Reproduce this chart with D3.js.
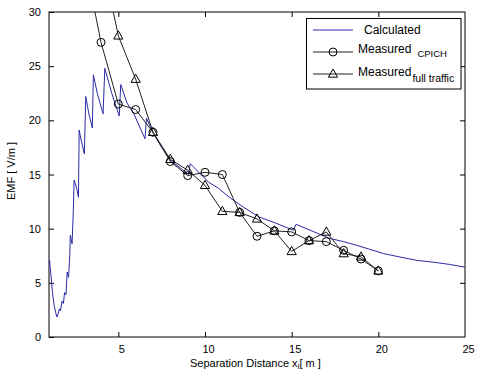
<!DOCTYPE html>
<html>
<head>
<meta charset="utf-8">
<script src="https://cdn.jsdelivr.net/npm/d3@7/dist/d3.min.js"></script>
<style>
  html, body { margin: 0; padding: 0; background: #fff; }
  svg { display: block; font-family: "Liberation Sans", Arial, sans-serif; }
</style>
</head>
<body>
<svg id="chart" width="482" height="371"></svg>
<script>
// ---- data ----
const calcX = [1.0, 1.03, 1.07, 1.12, 1.2, 1.3, 1.38, 1.45, 1.52, 1.6, 1.66, 1.75, 1.83, 1.9, 1.98, 2.05, 2.13, 2.2, 2.23, 2.33, 2.4, 2.45, 2.6, 2.7, 2.74, 2.85, 3.04, 3.12, 3.3, 3.5, 3.56, 3.8, 4.12, 4.22, 4.6, 5.05, 5.14, 5.5, 5.9, 6.2, 6.54, 6.62, 7.02, 7.5, 8.0, 8.5, 9.05, 9.15, 9.7, 10.2, 10.8, 11.4, 12.2, 13.1, 14.1, 15.1, 15.25, 16.0, 17.2, 18.0, 18.75, 19.5, 20.3, 21.2, 22.2, 23.2, 24.1, 25.0];
const calcY = [6.6, 7.1, 6.4, 5.6, 4.1, 2.9, 2.3, 1.85, 2.1, 2.6, 2.4, 3.3, 3.1, 4.1, 3.9, 6.0, 5.5, 7.6, 9.4, 8.6, 11.5, 14.5, 13.7, 12.9, 19.1, 18.2, 16.9, 22.2, 20.6, 19.3, 24.2, 22.4, 20.6, 24.8, 22.6, 20.4, 23.3, 21.6, 20.6, 19.5, 18.3, 20.2, 18.8, 17.5, 16.3, 15.7, 15.0, 16.0, 15.1, 14.3, 13.7, 12.9, 12.0, 11.1, 10.5, 9.85, 10.4, 9.9, 9.1, 8.8, 8.46, 8.1, 7.7, 7.4, 7.08, 6.9, 6.7, 6.45];

const measX = [3, 4, 5, 6, 7, 8, 9, 10, 11, 12, 13, 14, 15, 16, 17, 18, 19, 20];
const cpichY = [35.2, 27.2, 21.5, 21.0, 18.9, 16.2, 14.9, 15.2, 15.0, 11.5, 9.3, 9.8, 9.7, 8.9, 8.8, 8.0, 7.2, 6.1];
const fullX = [4, 5, 6, 7, 8, 9, 10, 11, 12, 13, 14, 15, 16, 17, 18, 19, 20];
const fullY = [35.4, 27.8, 23.8, 18.9, 16.4, 15.4, 14.0, 11.6, 11.5, 10.9, 9.8, 7.9, 8.9, 9.7, 7.7, 7.4, 6.1];

const xTicks = [5, 10, 15, 20, 25];
const yTicks = [0, 5, 10, 15, 20, 25, 30];
const legendLabels = ["Calculated", "Measured", "Measured"];
const legendSubs = ["", "CPICH", "full traffic"];

// ---- layout ----
const L = 49, T = 12, R = 465, B = 337;
const svg = d3.select("#chart");
const x = d3.scaleLinear().domain([1, 25]).range([L, R]);
const y = d3.scaleLinear().domain([0, 30]).range([B, T]);

svg.append("defs").append("clipPath").attr("id", "clip")
  .append("rect").attr("x", L).attr("y", T).attr("width", R - L).attr("height", B - T);

// frame
svg.append("rect").attr("x", L).attr("y", T).attr("width", R - L).attr("height", B - T)
  .attr("fill", "none").attr("stroke", "#000").attr("stroke-width", 1);

// axes (ticks inside)
const tickLen = 5;
const gx = svg.append("g").attr("transform", `translate(0,${B})`)
  .call(d3.axisBottom(x).tickValues(xTicks).tickSizeInner(-tickLen).tickSizeOuter(0).tickPadding(8));
const gxTop = svg.append("g").attr("transform", `translate(0,${T})`)
  .call(d3.axisTop(x).tickValues(xTicks.filter(v => v < 25)).tickSizeInner(-tickLen).tickSizeOuter(0).tickFormat(""));
const gy = svg.append("g").attr("transform", `translate(${L},0)`)
  .call(d3.axisLeft(y).tickValues(yTicks).tickSizeInner(-tickLen).tickSizeOuter(0).tickPadding(8));
const gyR = svg.append("g").attr("transform", `translate(${R},0)`)
  .call(d3.axisRight(y).tickValues(yTicks.filter(v => v > 0 && v < 30)).tickSizeInner(-tickLen).tickSizeOuter(0).tickFormat(""));
[gx, gxTop, gy, gyR].forEach(g => {
  g.select(".domain").remove();
  g.selectAll("line").attr("stroke", "#000");
  g.selectAll("text").attr("font-size", 11).attr("fill", "#000")
    .attr("font-family", "Liberation Sans, Arial, sans-serif");
});
gx.selectAll("text").attr("dx", 3);
gx.selectAll(".tick").filter(d => d === 25).select("line").remove();

// axis titles
const xt = svg.append("text").attr("x", 190).attr("y", 367).attr("font-size", 11).attr("fill", "#000");
xt.append("tspan").text("Separation Distance x");
xt.append("tspan").attr("font-size", 8).attr("dy", 2).text("l");
xt.append("tspan").attr("dy", -2).text("[ m ]");
svg.append("text").attr("transform", "translate(15,171) rotate(-90)")
  .attr("text-anchor", "middle").attr("font-size", 11).attr("fill", "#000").text("EMF [ V/m ]");

const plot = svg.append("g").attr("clip-path", "url(#clip)");

// calculated line
const calc = calcX.map((v, i) => [v, calcY[i]]);
plot.append("path").datum(calc)
  .attr("fill", "none").attr("stroke", "#2a2aa8").attr("stroke-width", 1)
  .attr("d", d3.line().x(d => x(d[0])).y(d => y(d[1])));

// measured lines
const cp = measX.map((v, i) => [v, cpichY[i]]);
const ft = fullX.map((v, i) => [v, fullY[i]]);
const ln = d3.line().x(d => x(d[0])).y(d => y(d[1]));
plot.append("path").datum(cp).attr("fill", "none").attr("stroke", "#222").attr("stroke-width", 1).attr("d", ln);
plot.append("path").datum(ft).attr("fill", "none").attr("stroke", "#222").attr("stroke-width", 1).attr("d", ln);

const triPath = "M0,-5L4.6,3.2L-4.6,3.2Z";
plot.selectAll("circle.cp").data(cp.filter(d => d[1] <= 30)).enter().append("circle")
  .attr("cx", d => x(d[0])).attr("cy", d => y(d[1])).attr("r", 4)
  .attr("fill", "none").attr("stroke", "#000").attr("stroke-width", 1);
plot.selectAll("path.ft").data(ft.filter(d => d[1] <= 30)).enter().append("path")
  .attr("transform", d => `translate(${x(d[0])},${y(d[1])})`)
  .attr("d", triPath).attr("fill", "none").attr("stroke", "#000").attr("stroke-width", 1);

// legend
const lg = svg.append("g");
lg.append("rect").attr("x", 306.5).attr("y", 18.5).attr("width", 154.5).attr("height", 70.5)
  .attr("fill", "#fff").attr("stroke", "#000").attr("stroke-width", 1);
const rowsY = [30, 52, 74];
const textBase = [34.3, 53.3, 76];
const subDy = [0, 3.5, 5.5];
const subDx = [0, 6, 1];
const subSize = [0, 9.5, 10.5];
const colors = ["#2a2aa8", "#222", "#222"];
rowsY.forEach((ry, i) => {
  lg.append("line").attr("x1", 313).attr("x2", 353).attr("y1", ry).attr("y2", ry)
    .attr("stroke", colors[i]).attr("stroke-width", 1);
  if (i === 1) lg.append("circle").attr("cx", 333).attr("cy", ry).attr("r", 4)
    .attr("fill", "none").attr("stroke", "#000");
  if (i === 2) lg.append("path").attr("transform", `translate(333,${ry})`).attr("d", triPath)
    .attr("fill", "none").attr("stroke", "#000");
  const t = lg.append("text").attr("x", i === 0 ? 364 : 358).attr("y", textBase[i])
    .attr("font-size", 12).attr("fill", "#000");
  t.append("tspan").text(legendLabels[i]);
  if (legendSubs[i]) t.append("tspan").attr("font-size", subSize[i]).attr("dx", subDx[i]).attr("dy", subDy[i]).text(legendSubs[i]);
});
</script>
</body>
</html>
